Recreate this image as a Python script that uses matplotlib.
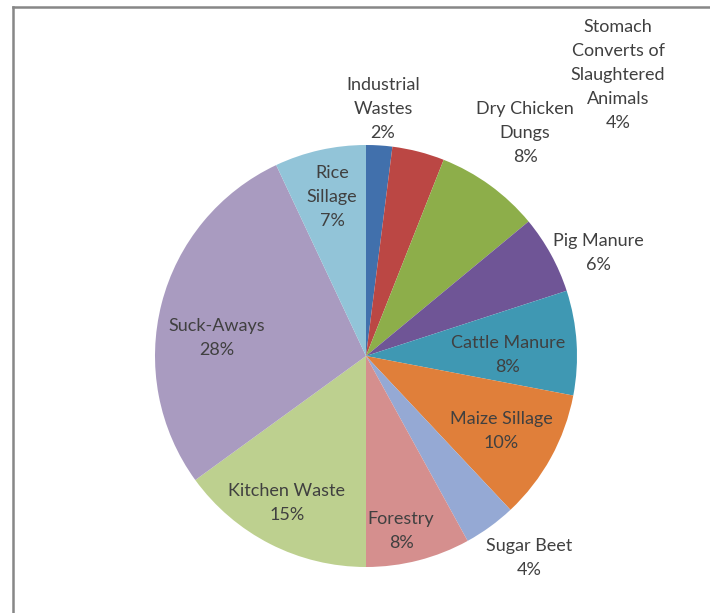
import matplotlib.pyplot as plt
from matplotlib.lines import Line2D

labels = ['Industrial\nWastes', 'Stomach\nConverts of\nSlaughtered\nAnimals', 'Dry Chicken\nDungs',
          'Pig Manure', 'Cattle Manure', 'Maize Sillage', 'Sugar Beet', 'Forestry',
          'Kitchen Waste', 'Suck-Aways', 'Rice\nSillage']
values = [2, 4, 8, 6, 8, 10, 4, 8, 15, 28, 7]
colors = ['#4170AC', '#BB4744', '#8DAE4A', '#6F5596', '#3F98B3', '#E07F3A',
          '#95A9D4', '#D58F8E', '#BDD08F', '#A99BC0', '#92C4D8']

# label centres in pixels (x, y of the middle of the text block)
label_px = [(383, 109), (618, 75), (525, 133), (598, 253), (508, 355), (501, 431),
            (529, 558), (401, 531), (287, 503), (217, 338), (332, 197)]

W, H = 710, 613
cx, cy, R = 366, 356, 211

fig = plt.figure(figsize=(W / 100, H / 100), dpi=100)
ax = fig.add_axes([0, 0, 1, 1])
ax.pie(values, colors=colors, startangle=90, counterclock=False, radius=1,
       wedgeprops=dict(linewidth=0))
ax.set_aspect('auto')
ax.set_xlim(-cx / R, (W - cx) / R)
ax.set_ylim((cy - H) / R, cy / R)
ax.axis('off')

for lab, v, (px, py) in zip(labels, values, label_px):
    ax.text((px - cx) / R, (cy - py) / R, f'{lab}\n{v}%', ha='center', va='center',
            fontsize=13, family='Lato', color='#404040', linespacing=1.6)

# chart frame (left and top edges visible)
fig.add_artist(Line2D([12.5 / W, 12.5 / W], [0, 1 - 6.5 / H], transform=fig.transFigure,
                      color='#878787', lw=1.8))
fig.add_artist(Line2D([12.5 / W, 1], [1 - 6.5 / H, 1 - 6.5 / H], transform=fig.transFigure,
                      color='#878787', lw=1.8))

fig.savefig('out.png', dpi=100)
